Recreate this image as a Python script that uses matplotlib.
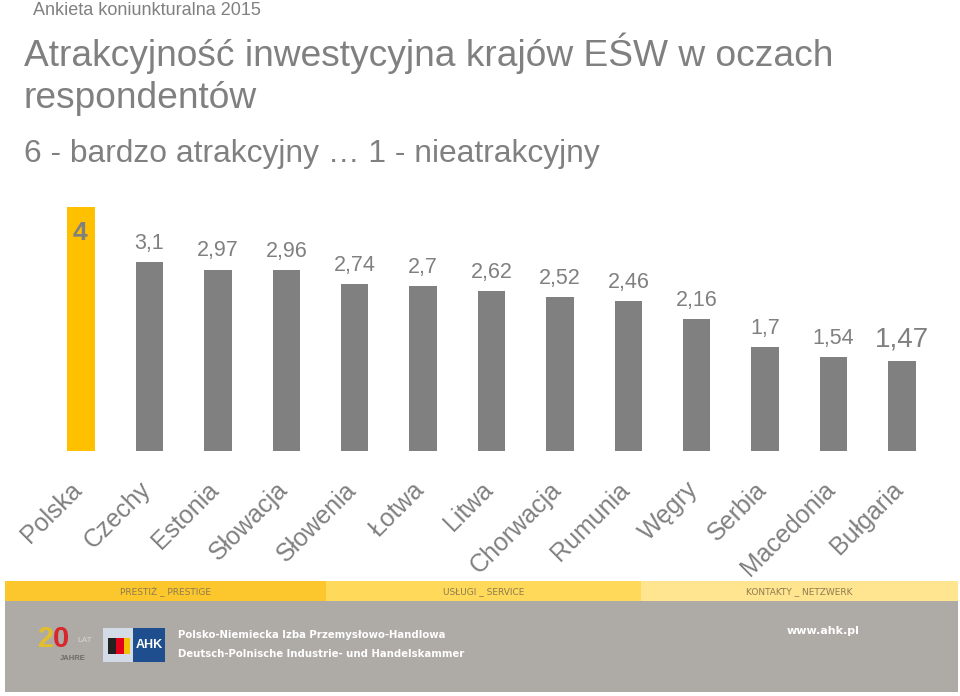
import matplotlib
matplotlib.use("Agg")
import matplotlib.pyplot as plt
import matplotlib.transforms as mtransforms
from matplotlib.patches import Rectangle

plt.rcParams['font.family'] = ['Liberation Sans', 'DejaVu Sans']

# dane
kraje = ['Polska', 'Czechy', 'Estonia', 'Słowacja', 'Słowenia', 'Łotwa', 'Litwa',
         'Chorwacja', 'Rumunia', 'Węgry', 'Serbia', 'Macedonia', 'Bułgaria']
oceny = [4, 3.1, 2.97, 2.96, 2.74, 2.7, 2.62, 2.52, 2.46, 2.16, 1.7, 1.54, 1.47]
etykiety = ['4', '3,1', '2,97', '2,96', '2,74', '2,7', '2,62', '2,52', '2,46',
            '2,16', '1,7', '1,54', '1,47']

W, H = 960, 696
szary = '#808080'
zolty = '#FFC000'
waski = ['DejaVu Sans Condensed', 'DejaVu Sans']

fig = plt.figure(figsize=(9.6, 6.96), dpi=100)


def px(x0, y0, w, h):
    # prostokat w pikselach (od gory) -> wspolrzedne figury
    return (x0 / W, 1 - (y0 + h) / H, w / W, h / H)


def prost(x0, y0, w, h, c):
    r = px(x0, y0, w, h)
    fig.add_artist(Rectangle(r[:2], r[2], r[3], transform=fig.transFigure, color=c, lw=0))


ax = fig.add_axes(px(46.8, 207, 889.4, 244))
kolory = [zolty] + [szary] * (len(kraje) - 1)
x = list(range(len(kraje)))
ax.bar(x, oceny, width=0.4, color=kolory)
ax.set_xlim(-0.5, len(kraje) - 0.5)
ax.set_ylim(0, 4)
for s in ax.spines.values():
    s.set_visible(False)
ax.set_yticks([])
ax.set_xticks(x)
ax.set_xticklabels(kraje, rotation=45, ha='right', va='top', rotation_mode='anchor',
                   fontsize=18, color=szary)
ax.tick_params(axis='x', length=0, pad=19)
przes = mtransforms.ScaledTranslation(-11 / 100, 0, fig.dpi_scale_trans)
for lbl in ax.get_xticklabels():
    lbl.set_transform(lbl.get_transform() + przes)

# etykiety wartosci
for i, (v, t) in enumerate(zip(oceny, etykiety)):
    if i == 0:
        ax.annotate(t, (i, v), xytext=(-1, -10), textcoords='offset points',
                    ha='center', va='top', fontsize=19, fontweight='bold', color=szary)
    elif i == len(oceny) - 1:
        ax.annotate(t, (i, v), xytext=(0, 6), textcoords='offset points',
                    ha='center', va='bottom', fontsize=20, color=szary)
    else:
        ax.annotate(t, (i, v), xytext=(0, 6), textcoords='offset points',
                    ha='center', va='bottom', fontsize=15.5, color=szary)

# teksty naglowka
fig.text(33 / W, 1 - 2 / H, 'Ankieta koniunkturalna 2015', fontsize=13,
         color=szary, va='top', ha='left')
fig.text(24 / W, 1 - 66 / H, 'Atrakcyjność inwestycyjna krajów EŚW w oczach',
         fontsize=26.7, color=szary, va='baseline', ha='left')
fig.text(24 / W, 1 - 108 / H, 'respondentów', fontsize=26.7, color=szary,
         va='baseline', ha='left')
fig.text(24 / W, 1 - 162 / H, '6 - bardzo atrakcyjny … 1 - nieatrakcyjny',
         fontsize=22.9, color=szary, va='baseline', ha='left')

# stopka
pasy = [(5, 321, '#FCC72D', 'PRESTIŻ _ PRESTIGE'),
        (326, 315, '#FFD95A', 'USŁUGI _ SERVICE'),
        (641, 317, '#FFE58F', 'KONTAKTY _ NETZWERK')]
for x0, w, c, t in pasy:
    prost(x0, 581, w, 20, c)
    fig.text((x0 + w / 2) / W, 1 - 592 / H, t, fontsize=6.5, color='#8C7B52',
             ha='center', va='center', family=waski)
prost(5, 601, 953, 91, '#AEABA6')

# logo 20 lat
fig.text(38 / W, 1 - 647 / H, '2', fontsize=21, fontweight='bold', color='#E3BE2C',
         ha='left', va='baseline')
fig.text(53 / W, 1 - 647 / H, '0', fontsize=21, fontweight='bold', color='#D7262C',
         ha='left', va='baseline')
fig.text(77 / W, 1 - 642 / H, 'LAT', fontsize=6, color='#D8D6D2', ha='left', va='baseline')
fig.text(60 / W, 1 - 660 / H, 'JAHRE', fontsize=5.5, fontweight='bold', color='#6E6B66',
         ha='left', va='baseline')
# logo AHK
prost(103, 628, 30, 34, '#D3DCE6')
prost(133, 628, 32, 34, '#1E4E8E')
prost(108, 638, 8, 16, '#222222')
prost(116, 638, 8, 16, '#E2001A')
prost(124, 638, 6, 16, '#F2C200')
fig.text(149 / W, 1 - 645 / H, 'AHK', fontsize=9, fontweight='bold', color='white',
         ha='center', va='center')

fig.text(178 / W, 1 - 635 / H, 'Polsko-Niemiecka Izba Przemysłowo-Handlowa', fontsize=7.3,
         fontweight='bold', color='white', ha='left', va='center', family=waski)
fig.text(178 / W, 1 - 654 / H, 'Deutsch-Polnische Industrie- und Handelskammer', fontsize=7.3,
         fontweight='bold', color='white', ha='left', va='center', family=waski)
fig.text(823 / W, 1 - 631 / H, 'www.ahk.pl', fontsize=8, fontweight='bold', color='white',
         ha='center', va='center', family=waski)

fig.savefig('out.png', dpi=100)
